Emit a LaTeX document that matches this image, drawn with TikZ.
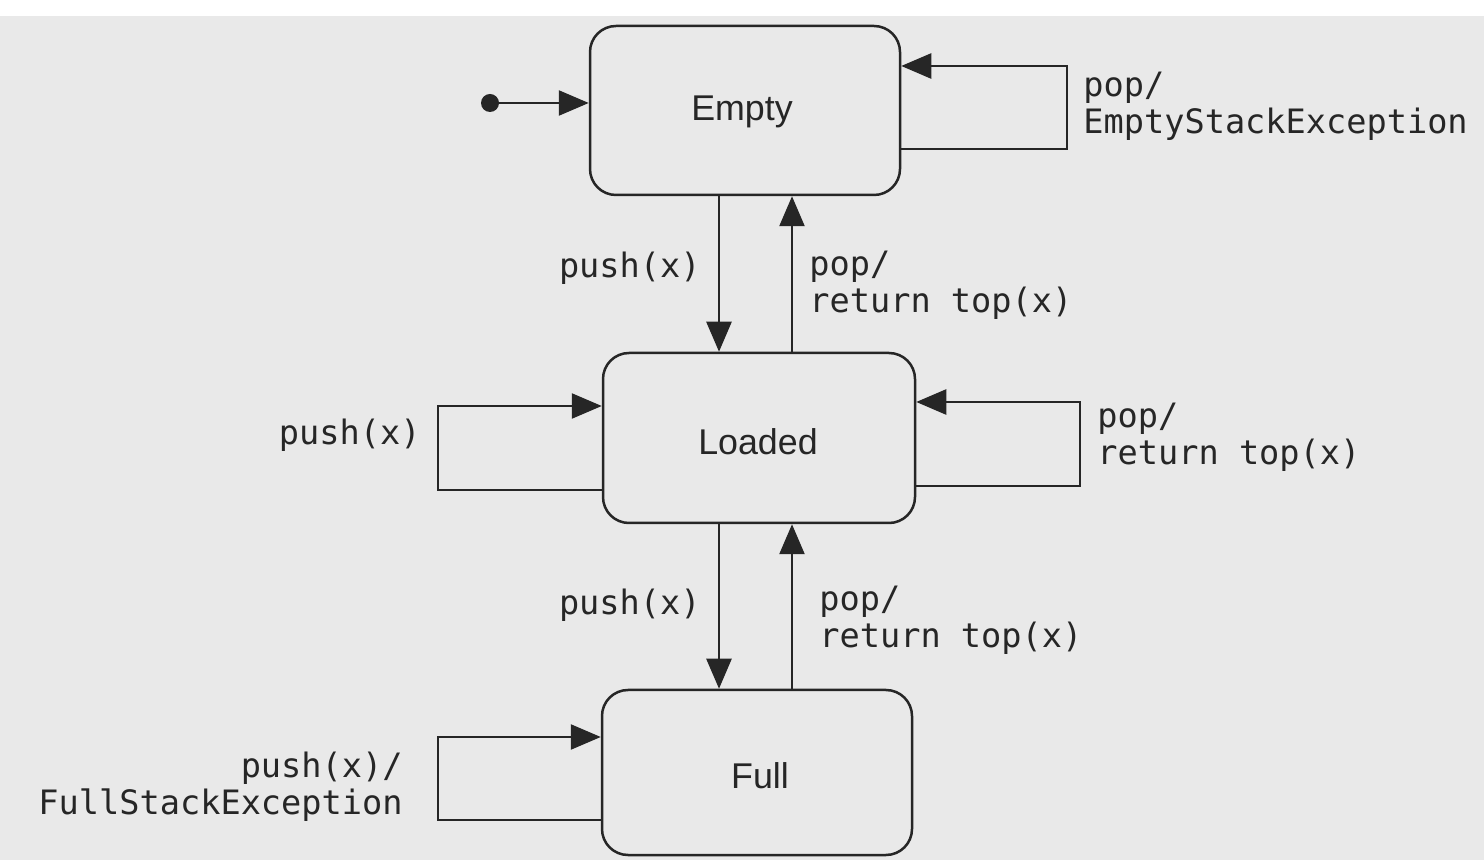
\documentclass[tikz,border=0pt]{standalone}
\usepackage{fontspec}
\setmainfont{Liberation Sans}
\newfontfamily\lblfont{DejaVu Sans Mono}
\usetikzlibrary{arrows.meta}
\definecolor{ink}{HTML}{262626}
\definecolor{paper}{HTML}{E9E9E9}
\begin{document}
\begin{tikzpicture}[x=0.5pt,y=-0.5pt,
  statebox/.style={draw=ink, line width=1.25pt, rounded corners=13pt, inner sep=0pt},
  statetext/.style={text=ink, font=\fontsize{17.9}{20}\selectfont},
  arr/.style={draw=ink, line width=1.25pt, -{Triangle[length=15pt,width=12.5pt]}},
  lbl/.style={font=\lblfont\fontsize{16.8}{18.5}\selectfont, text=ink, inner sep=0pt, align=left}
]
\useasboundingbox (0,0) rectangle (1484,860);
\fill[paper] (0,0) rectangle (1484,860);
\fill[white] (0,0) rectangle (1484,16);

% states
\node[statebox, minimum width=155pt, minimum height=84.5pt] (E) at (745,110.5) {};
\node[statetext] (Et) at (742,112) {Empty};
\node[statebox, minimum width=156pt, minimum height=85pt] (L) at (759,438) {};
\node[statetext] (Lt) at (758,442) {Loaded};
\node[statebox, minimum width=155pt, minimum height=82.5pt] (F) at (757,772.5) {};
\node[statetext] (Ft) at (760,776) {Full};

% column positions
\coordinate (down) at (719,0);
\coordinate (up) at (792,0);

% initial state
\fill[ink] (490,103) circle (4.5pt) coordinate (init);
\draw[arr] (init) -- (E.west |- init);

% Empty self loop
\coordinate (e1) at (1067,149);
\coordinate (e2) at (1067,66);
\draw[arr] (E.east |- e1) -- (e1) -- (e2) -- (E.east |- e2);
\node[lbl, anchor=west] (le) at (1083,106.5) {pop/\\EmptyStackException};

% Empty <-> Loaded
\draw[arr] (E.south -| down) -- (L.north -| down);
\draw[arr] (L.north -| up) -- (E.south -| up);
\node[lbl, anchor=east] (l1) at (701,268) {push(x)};
\node[lbl, anchor=west] (l2) at (809,285) {pop/\\return top(x)};

% Loaded left self loop
\coordinate (a1) at (438,490);
\coordinate (a2) at (438,406);
\draw[arr] (L.west |- a1) -- (a1) -- (a2) -- (L.west |- a2);
\node[lbl, anchor=east] (l3) at (421,435) {push(x)};

% Loaded right self loop
\coordinate (b1) at (1080,486);
\coordinate (b2) at (1080,402);
\draw[arr] (L.east |- b1) -- (b1) -- (b2) -- (L.east |- b2);
\node[lbl, anchor=west] (l4) at (1097,437.5) {pop/\\return top(x)};

% Loaded <-> Full
\draw[arr] (L.south -| down) -- (F.north -| down);
\draw[arr] (F.north -| up) -- (L.south -| up);
\node[lbl, anchor=east] (l5) at (701,605) {push(x)};
\node[lbl, anchor=west] (l6) at (819,620.5) {pop/\\return top(x)};

% Full self loop
\coordinate (f1) at (438,820);
\coordinate (f2) at (438,737);
\draw[arr] (F.west |- f1) -- (f1) -- (f2) -- (F.west |- f2);
\node[lbl, anchor=east, align=right] (l7) at (403,787) {push(x)/\\FullStackException};
\end{tikzpicture}
\end{document}
